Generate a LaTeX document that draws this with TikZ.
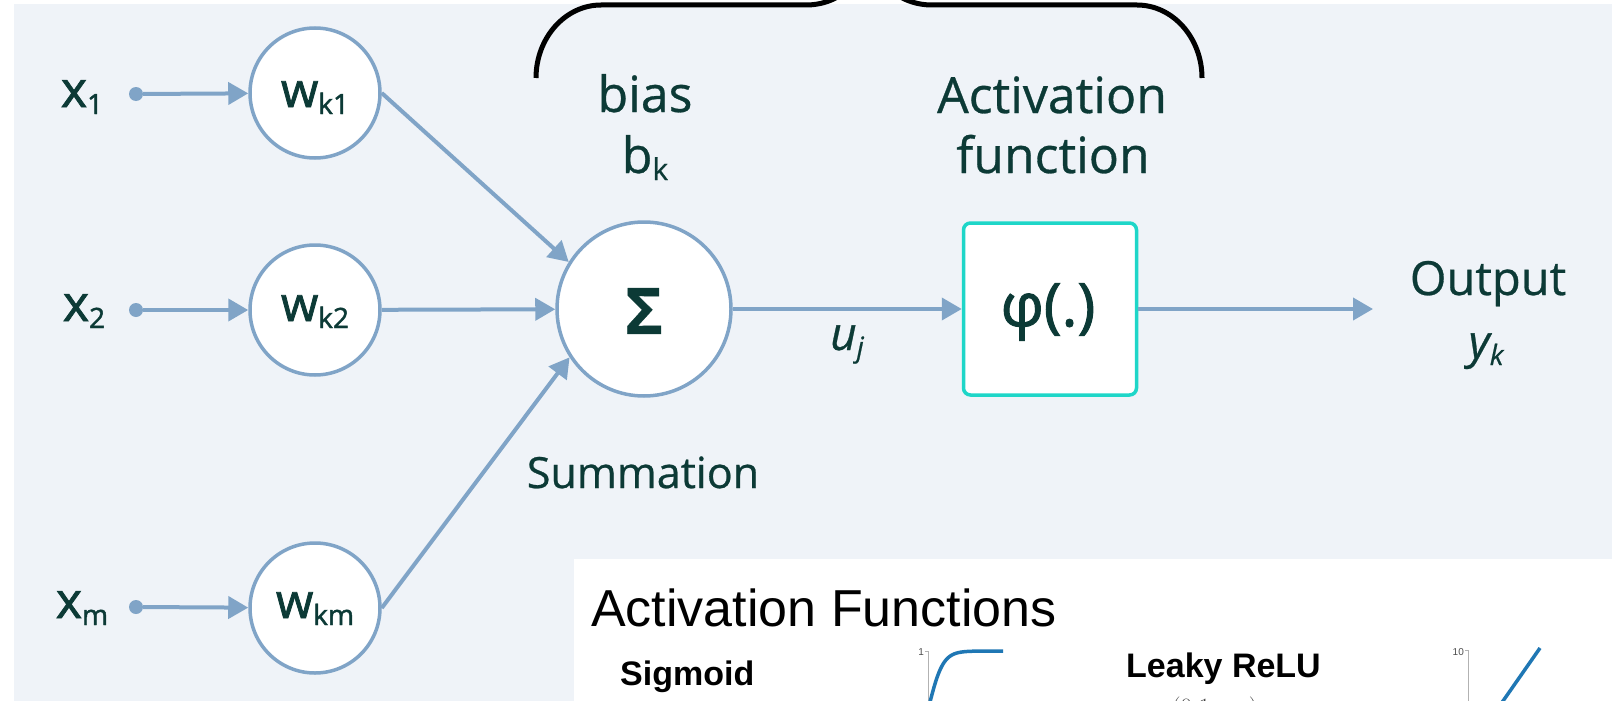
\documentclass[tikz,border=0pt]{standalone}
\usepackage[no-math]{fontspec}
\setmainfont{Open Sans}[FakeBold=0.6]
\newfontfamily\arialf{Liberation Sans}
\newfontfamily\semif{Open Sans}[FakeBold=1.6]
\usetikzlibrary{arrows.meta}
\definecolor{panelbg}{RGB}{239,243,248}
\definecolor{edgeblue}{RGB}{128,164,199}
\definecolor{txtdark}{RGB}{12,58,54}
\definecolor{turq}{RGB}{30,214,200}
\definecolor{mplblue}{RGB}{31,119,180}
\newcommand{\mysub}[2][28]{\raisebox{-7pt}{\fontsize{#1}{#1}\selectfont #2}}
\begin{document}
\begin{tikzpicture}[x=1pt,y=-1pt,
  edge/.style={draw=edgeblue, line width=4pt, -{Triangle[length=20pt,width=22pt]}},
  wcirc/.style={circle, draw=edgeblue, line width=3.5pt, fill=white, minimum size=130pt, inner sep=0pt},
  sumcirc/.style={circle, draw=edgeblue, line width=3.5pt, fill=white, minimum size=174pt, inner sep=0pt},
  phibox/.style={rectangle, rounded corners=7pt, draw=turq, line width=3.5pt, fill=white, minimum width=173pt, minimum height=172pt, inner sep=0pt},
  dotn/.style={circle, fill=edgeblue, minimum size=14pt, inner sep=0pt},
  lbl/.style={text=txtdark, inner sep=0pt, anchor=base},
  big/.style={lbl, font=\fontsize{50}{60}\selectfont},
  xlab/.style={lbl, font=\semif\fontsize{50}{60}\selectfont},
  wlab/.style={lbl, font=\semif\fontsize{48}{60}\selectfont},
  brace/.style={draw=black, line width=5pt},
  axisl/.style={draw=black!30, line width=1pt},
  tinyl/.style={font=\arialf\fontsize{10}{10}\selectfont, text=black!70, anchor=east, inner sep=0pt},
  curve/.style={draw=mplblue, line width=3.5pt}
]
\useasboundingbox (0,0) rectangle (1619,701);
\clip (0,0) rectangle (1619,701);
\fill[white] (0,0) rectangle (1619,701);
\fill[panelbg] (14,4) rectangle (1612,701);
\fill[white] (574,559) rectangle (1619,701);

% input dots
\node[dotn] (d1) at (136,94) {};
\node[dotn] (d2) at (136,310) {};
\node[dotn] (dm) at (136,607) {};
% weight circles
\node[wcirc] (w1) at (315,93) {};
\node[wcirc] (w2) at (315,310) {};
\node[wcirc] (wm) at (315,608) {};
% summation and activation
\node[sumcirc] (sum) at (644,309) {};
\node[phibox] (phi) at (1050,309) {};
\coordinate (outtip) at (1373,309);

% labels
\node[xlab] (x1) at (82,107) {x\mysub{1}};
\node[xlab] (x2) at (84,321) {x\mysub{2}};
\node[xlab] (xm) at (82,618) {x\mysub{m}};
\node[wlab] (w1t) at (315,107) {w\mysub{k1}};
\node[wlab] (w2t) at (315,321) {w\mysub{k2}};
\node[wlab] (wmt) at (315,618) {w\mysub{km}};
\node[text=txtdark, inner sep=0pt, font=\bfseries\fontsize{64}{64}\selectfont] (sig) at (644,311) {Σ};
\node[text=txtdark, inner sep=0pt, font=\semif\fontsize{60}{60}\selectfont] (phit) at (1048,312) {φ(.)};
\node[big] (bias) at (645,112) {bias};
\node[big] (bk) at (645,173) {b\mysub[30]{k}};
\node[big] (act1) at (1052,113) {Activation};
\node[big] (act2) at (1053,173) {function};
\node[lbl, font=\fontsize{46}{46}\selectfont\itshape] (uj) at (847,350) {u\mysub[28]{j}};
\node[lbl, font=\fontsize{43}{43}\selectfont] (summ) at (643,488) {Summation};
\node[lbl, font=\fontsize{47}{47}\selectfont] (outl) at (1488,295) {Output};
\node[lbl, font=\fontsize{46}{46}\selectfont\itshape] (yk) at (1486,358) {y\mysub[28]{k}};

% connectors
\draw[edge] (d1) -- (w1);
\draw[edge] (d2) -- (w2);
\draw[edge] (dm) -- (wm);
\draw[edge] (w1.east) -- (sum.148);
\draw[edge] (w2) -- (sum);
\draw[edge] (wm.east) -- (sum.213);
\draw[edge] (sum) -- (phi);
\draw[edge] (phi) -- (outtip);

% brace
\draw[brace] (536,78) .. controls (536,38) and (565,5) .. (601,5) -- (806,5)
  .. controls (840,5) and (869,-20) .. (869,-60)
  .. controls (869,-20) and (898,5) .. (932,5) -- (1137,5)
  .. controls (1173,5) and (1202,38) .. (1202,78);

% activation functions panel
\node[font=\arialf\fontsize{52}{52}\selectfont, anchor=base west, inner sep=0pt] (aft) at (591,626) {Activation Functions};
\node[font=\arialf\bfseries\fontsize{34}{34}\selectfont, anchor=base west, inner sep=0pt] (sigm) at (620,685) {Sigmoid};
\node[font=\arialf\bfseries\fontsize{34}{34}\selectfont, anchor=base west, inner sep=0pt] (lrelu) at (1126,677) {Leaky ReLU};
\node[font=\fontsize{34}{34}\selectfont, text=black!75, anchor=base west, inner sep=0pt] (lrf) at (1129,715) {$\max(0.1x,x)$};

\draw[axisl] (928,651) -- (928,705);
\draw[axisl] (925,651) -- (928,651);
\node[tinyl] (one) at (924,652) {1};
\draw[curve] plot[domain=0:74, samples=60] ({929+\x},{651+110*(1-1/(1+exp(-\x/7)))});

\draw[axisl] (1468,650) -- (1468,705);
\draw[axisl] (1465,650) -- (1468,650);
\node[tinyl] (ten) at (1464,652) {10};
\draw[curve] (1496,711) -- (1540,648);
\end{tikzpicture}
\end{document}
